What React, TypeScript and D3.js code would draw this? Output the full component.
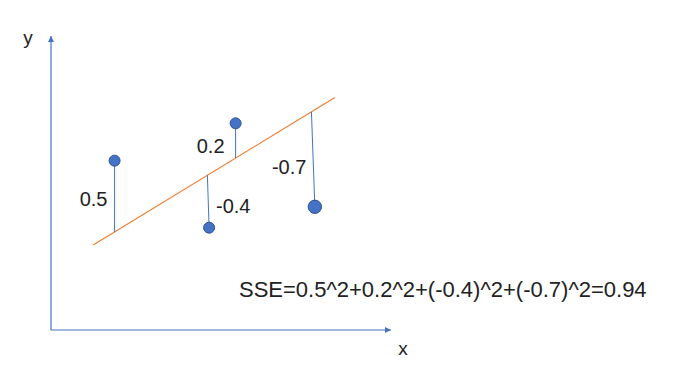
import React from "react";
import * as d3 from "d3";

// Data (in abstract chart units)
const pointX = [1.87, 5.43, 4.65, 7.76];
const pointY = [5.76, 7.03, 3.48, 4.19];
const pointSize = [5.5, 5.5, 5.5, 6.7];
const stemLineX = [1.87, 5.43, 4.6, 7.66];
const residualLabels = ["0.5", "0.2", "-0.4", "-0.7"];
const fitLineX = [1.24, 8.35];
const fitLineY = [2.89, 7.91];
const formula = "SSE=0.5^2+0.2^2+(-0.4)^2+(-0.7)^2=0.94";
const axisLabels = ["x", "y"];

const W = 689;
const H = 389;
// label layout offsets relative to residual stem midpoint (px)
const labelOffset = [
  [-21, 10],
  [-25, 12],
  [25, 12],
  [-24, 15],
];

export default function App() {
  const x = d3.scaleLinear().domain([0, 10]).range([51, 391]);
  const y = d3.scaleLinear().domain([0, 10]).range([330, 36]);
  const fit = d3.scaleLinear().domain(fitLineX).range(fitLineY);
  const line = d3
    .line<[number, number]>()
    .x((d) => x(d[0]))
    .y((d) => y(d[1]));
  const blue = "#4472C4";
  const font = "'Liberation Sans', Arial, sans-serif";

  return (
    <svg
      width={W}
      height={H}
      style={{ position: "absolute", left: 0, top: 0, background: "#fff" }}
      fontFamily={font}
    >
      <defs>
        <marker
          id="arr"
          viewBox="0 0 10 10"
          refX="10"
          refY="5"
          markerWidth="7"
          markerHeight="6"
          markerUnits="userSpaceOnUse"
          orient="auto"
        >
          <path d="M0,0 L10,5 L0,10 Z" fill={blue} />
        </marker>
      </defs>
      {/* axes */}
      <line
        x1={x(0)}
        y1={y(0)}
        x2={x(10)}
        y2={y(0)}
        stroke={blue}
        strokeWidth={1.2}
        markerEnd="url(#arr)"
      />
      <line
        x1={x(0)}
        y1={y(0)}
        x2={x(0)}
        y2={y(10)}
        stroke={blue}
        strokeWidth={1.2}
        markerEnd="url(#arr)"
      />
      <text x={x(10) + 12} y={y(0) + 25} fontSize={19} textAnchor="middle" fill="#222">
        {axisLabels[0]}
      </text>
      <text x={x(0) - 23} y={y(10) + 8} fontSize={19} textAnchor="middle" fill="#222">
        {axisLabels[1]}
      </text>
      {/* fit line */}
      <path
        d={line([
          [fitLineX[0], fitLineY[0]],
          [fitLineX[1], fitLineY[1]],
        ]) || ""}
        stroke="#ED7D31"
        strokeWidth={1.2}
        fill="none"
      />
      {/* residual stems */}
      {pointX.map((px, i) => {
        const lx = stemLineX[i];
        const ly = fit(lx);
        return (
          <line
            key={"s" + i}
            x1={x(px)}
            y1={y(pointY[i])}
            x2={x(lx)}
            y2={y(ly)}
            stroke={blue}
            strokeWidth={1}
          />
        );
      })}
      {/* points */}
      {pointX.map((px, i) => (
        <circle
          key={"p" + i}
          cx={x(px)}
          cy={y(pointY[i])}
          r={pointSize[i]}
          fill={blue}
          stroke="#2F528F"
          strokeWidth={1}
        />
      ))}
      {/* residual labels */}
      {residualLabels.map((t, i) => {
        const lx = stemLineX[i];
        const mx = (x(pointX[i]) + x(lx)) / 2;
        const my = (y(pointY[i]) + y(fit(lx))) / 2;
        return (
          <text
            key={"l" + i}
            x={mx + labelOffset[i][0]}
            y={my + labelOffset[i][1]}
            fontSize={20}
            textAnchor="middle"
            fill="#222"
          >
            {t}
          </text>
        );
      })}
      <text x={239} y={297} fontSize={22} fill="#222">
        {formula}
      </text>
    </svg>
  );
}
